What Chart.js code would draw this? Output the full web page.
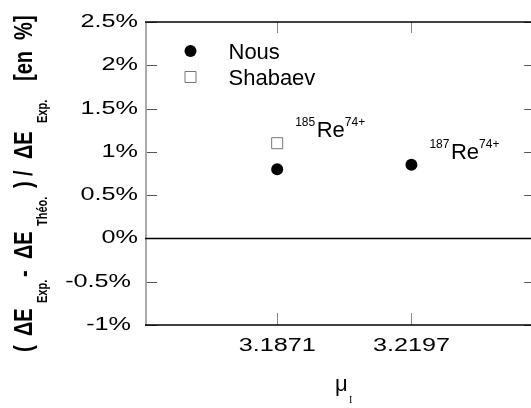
<!DOCTYPE html>
<html>
<head>
<meta charset="utf-8">
<script src="https://cdn.jsdelivr.net/npm/chart.js@4.4.1/dist/chart.umd.min.js"></script>
<style>
  html, body { margin: 0; padding: 0; background: #fff; overflow: hidden; }
  canvas { display: block; }
</style>
</head>
<body>
<canvas id="chart" width="545" height="408"></canvas>
<script>
/* Ecart relatif theorie / experience pour 185Re74+ et 187Re74+ */
var muValues = [3.1871, 3.2197];      // mu_I
var nousDiff = [0.80, 0.85];          // %
var shabaevMu = [3.1871];
var shabaevDiff = [1.10];             // %
var isotopes = ["185", "187"];
var xTicks = [3.1871, 3.2197];
var yTicks = [-1, -0.5, 0, 0.5, 1, 1.5, 2, 2.5];

var SANS = "'Liberation Sans', Arial, sans-serif";
var TICK_STRETCH = 1.4;

// the tick labels of the original are drawn wide: stretch text horizontally
var stretchText = {
  id: "stretchText",
  beforeDraw: function (chart) {
    var c = chart.ctx;
    if (c.plainFill) return;
    c.plainFill = c.fillText;
    c.fillText = function (t, x, y) {
      this.save();
      this.translate(x, y);
      this.scale(TICK_STRETCH, 1);
      this.plainFill(t, 0, 0);
      this.restore();
    };
  }
};

function seg(c, x1, y1, x2, y2) {
  c.beginPath();
  c.moveTo(x1, y1);
  c.lineTo(x2, y2);
  c.stroke();
}

var frame = {
  id: "frame",
  beforeDatasetsDraw: function (chart) {
    var c = chart.ctx, a = chart.chartArea;
    var xs = chart.scales.x, ys = chart.scales.y;
    c.save();
    c.lineWidth = 1;
    c.strokeStyle = "#555";
    ys.ticks.forEach(function (t) {
      var y = Math.round(ys.getPixelForValue(t.value)) + 0.5;
      seg(c, a.left, y, a.left + 12, y);
      seg(c, a.right, y, a.right - 12, y);
    });
    c.strokeStyle = "#888";
    xs.ticks.forEach(function (t) {
      var x = Math.round(xs.getPixelForValue(t.value)) + 0.5;
      seg(c, x, a.top, x, a.top + 11);
      seg(c, x, a.bottom, x, a.bottom - 12);
    });
    c.strokeStyle = "#aaa";
    c.lineWidth = 2;
    seg(c, a.left + 1, a.top, a.left + 1, a.bottom);
    c.strokeStyle = "#000";
    c.lineWidth = 1.5;
    seg(c, a.left, a.top, a.right, a.top);
    seg(c, a.left, a.bottom, a.right, a.bottom);
    var y0 = ys.getPixelForValue(0);
    seg(c, a.left, y0, a.right, y0);
    c.restore();
  }
};

function marker(c, ds, x, y) {
  c.beginPath();
  if (ds.pointStyle === "rect") {
    var s = ds.pointRadius * Math.SQRT1_2;
    c.rect(x - s, y - s, 2 * s, 2 * s);
  } else {
    c.arc(x, y, ds.pointRadius, 0, Math.PI * 2);
  }
  c.fillStyle = ds.pointBackgroundColor;
  c.fill();
  if (ds.pointBorderWidth) {
    c.lineWidth = ds.pointBorderWidth;
    c.strokeStyle = ds.pointBorderColor;
    c.stroke();
  }
}

var legendBox = {
  id: "legendBox",
  afterDraw: function (chart) {
    var c = chart.ctx;
    c.save();
    chart.data.datasets.forEach(function (ds, i) {
      var y = 51 + i * 26;
      marker(c, ds, 190.5, y);
      c.fillStyle = "#000";
      c.font = "22px " + SANS;
      c.textAlign = "left";
      c.textBaseline = "alphabetic";
      c.plainFill(ds.label, 228.5, y + 7.5);
    });
    c.restore();
  }
};

var isotopeLabels = {
  id: "isotopeLabels",
  afterDraw: function (chart) {
    var c = chart.ctx, xs = chart.scales.x, ys = chart.scales.y;
    c.save();
    c.fillStyle = "#000";
    c.textAlign = "left";
    c.textBaseline = "alphabetic";
    muValues.forEach(function (mu, i) {
      var top = nousDiff[i];
      shabaevMu.forEach(function (m, j) {
        if (m === mu) top = Math.max(top, shabaevDiff[j]);
      });
      var x = xs.getPixelForValue(mu) + 18;
      var y = ys.getPixelForValue(top) - 6;
      c.font = "12px " + SANS;
      c.plainFill(isotopes[i], x, y - 11);
      x += c.measureText(isotopes[i]).width + 1.5;
      c.font = "22px " + SANS;
      c.plainFill("Re", x, y);
      x += c.measureText("Re").width;
      c.font = "12px " + SANS;
      c.plainFill("74+", x, y - 11);
    });
    c.restore();
  }
};

// y title pieces: text, subscript?, start position along the axis
var yTitle = [
  ["(", false, 352], ["\u0394E", false, 336], ["Exp.", true, 303],
  ["-", false, 277], ["\u0394E", false, 259], ["Th\u00e9o.", true, 226],
  [")", false, 188], ["/", false, 176], ["\u0394E", false, 159],
  ["Exp.", true, 123], ["[en  %]", false, 81]
];

var axisTitles = {
  id: "axisTitles",
  afterDraw: function (chart) {
    var c = chart.ctx;
    c.save();
    c.fillStyle = "#000";
    c.textAlign = "left";
    c.textBaseline = "alphabetic";
    yTitle.forEach(function (p) {
      c.save();
      c.translate(p[1] ? 47 : 32, p[2]);
      c.rotate(-Math.PI / 2);
      c.scale(1, 1.33);
      c.font = p[1] ? "bold 11px " + SANS : "bold 20px " + SANS;
      c.plainFill(p[0], 0, 0);
      c.restore();
    });
    c.font = "22px " + SANS;
    c.plainFill("\u03bc", 335, 391);
    c.font = "10px 'Liberation Serif', serif";
    c.plainFill("I", 349, 403);
    c.restore();
  }
};

new Chart(document.getElementById("chart").getContext("2d"), {
  type: "scatter",
  data: {
    datasets: [{
      label: "Nous",
      data: muValues.map(function (m, i) { return { x: m, y: nousDiff[i] }; }),
      pointStyle: "circle",
      pointRadius: 6,
      pointBackgroundColor: "#000",
      pointBorderColor: "#000",
      pointBorderWidth: 0
    }, {
      label: "Shabaev",
      data: shabaevMu.map(function (m, i) { return { x: m, y: shabaevDiff[i] }; }),
      pointStyle: "rect",
      pointRadius: 7.8,
      pointBackgroundColor: "#fff",
      pointBorderColor: "#777",
      pointBorderWidth: 1
    }]
  },
  options: {
    responsive: false,
    animation: false,
    events: [],
    layout: { padding: { top: 22, right: 3.5, left: 0, bottom: 0 } },
    plugins: { legend: { display: false }, tooltip: { enabled: false } },
    scales: {
      x: {
        type: "linear",
        min: 3.155,
        max: 3.25,
        afterBuildTicks: function (s) { s.ticks = xTicks.map(function (v) { return { value: v }; }); },
        afterFit: function (s) { s.height = 83; },
        grid: { display: false, drawTicks: false },
        border: { display: false },
        ticks: {
          padding: 10,
          color: "#000",
          font: { family: SANS, size: 18 },
          callback: function (v) { return v.toFixed(4); }
        }
      },
      y: {
        min: -1,
        max: 2.5,
        afterBuildTicks: function (s) { s.ticks = yTicks.map(function (v) { return { value: v }; }); },
        afterFit: function (s) { s.width = 145; },
        grid: { display: false, drawTicks: false },
        border: { display: false },
        ticks: {
          padding: 7,
          color: "#000",
          font: { family: SANS, size: 18 },
          // negative labels sit a little further left in the original
          callback: function (v) { return v < 0 ? v + "% " : v + "%"; }
        }
      }
    }
  },
  plugins: [stretchText, frame, legendBox, isotopeLabels, axisTitles]
});
</script>
</body>
</html>
